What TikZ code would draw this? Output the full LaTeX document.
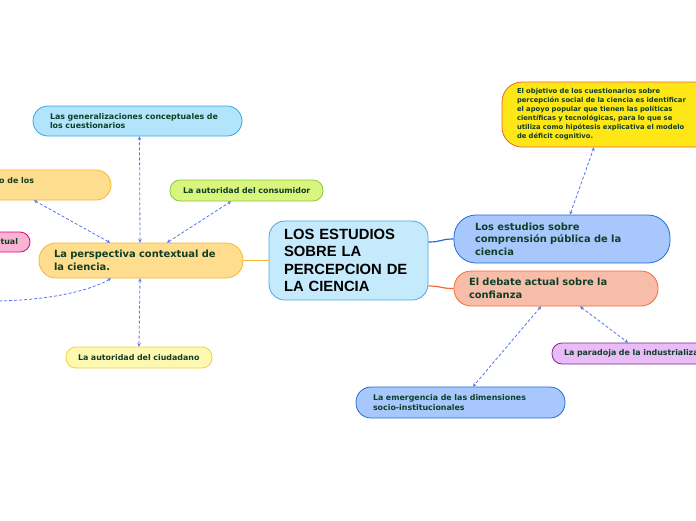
\documentclass[tikz,border=0pt]{standalone}
\usepackage{fontspec}
\setmainfont{DejaVu Sans}
\newfontfamily\arialfont{Liberation Sans}
\usetikzlibrary{arrows.meta}
\definecolor{txtc}{HTML}{0E3F26}
\definecolor{dashc}{HTML}{5474F5}
\definecolor{cenF}{HTML}{C5EAFC}\definecolor{cenD}{HTML}{4DA6E0}
\definecolor{perF}{HTML}{FEDD8E}\definecolor{perD}{HTML}{F5B82E}
\definecolor{genF}{HTML}{B2E5FB}\definecolor{genD}{HTML}{2EA8E6}
\definecolor{pinF}{HTML}{F9B4D4}\definecolor{pinD}{HTML}{E6007E}
\definecolor{conF}{HTML}{D9F57E}\definecolor{conD}{HTML}{8DC63F}
\definecolor{ciuF}{HTML}{FFF8B0}\definecolor{ciuD}{HTML}{F2D33A}
\definecolor{bluF}{HTML}{A8C8FD}\definecolor{bluD}{HTML}{1F6ED6}
\definecolor{objF}{HTML}{FFE617}\definecolor{objD}{HTML}{F2623A}
\definecolor{debF}{HTML}{F8BDA9}\definecolor{debD}{HTML}{F46B3B}
\definecolor{parF}{HTML}{E9BCF8}\definecolor{parD}{HTML}{7D2B8B}
\tikzset{
  mbox/.style={draw, line width=0.8pt, align=left, text=txtc, inner ysep=0pt, font=\bfseries},
  big/.style={font=\bfseries\fontsize{9.9}{12.6}\selectfont},
  small/.style={font=\bfseries\fontsize{7.9}{9.6}\selectfont},
  tiny/.style={font=\bfseries\fontsize{6.8}{9}\selectfont},
  dlink/.style={dashc, line width=0.8pt, dash pattern=on 3pt off 2pt, {Stealth[length=3.5pt,width=3.5pt]}-{Stealth[length=3.5pt,width=3.5pt]}},
}
\begin{document}
\begin{tikzpicture}[x=1pt,y=-1pt]
\path[use as bounding box] (0,0) rectangle (696,520);
\clip (0,0) rectangle (696,520);
\fill[white] (0,0) rectangle (696,520);

% central
\node[mbox, fill=cenF, draw=cenD, text=black, rounded corners=16pt, minimum width=159pt, minimum height=79pt, inner xsep=15pt, text width=129pt, font=\arialfont\bfseries\fontsize{14.8}{17.3}\selectfont] (cen) at (348.5,260.5) {LOS ESTUDIOS\\SOBRE LA\\PERCEPCION DE\\LA CIENCIA};

% left side
\node[mbox, big, fill=perF, draw=perD, rounded corners=17pt, minimum width=204pt, minimum height=35pt, inner xsep=15pt, text width=174pt] (per) at (141,260.5) {La perspectiva contextual de\\la ciencia.};
\node[mbox, small, fill=genF, draw=genD, rounded corners=15pt, minimum width=209pt, minimum height=30pt, inner xsep=17pt, text width=175pt] (gen) at (137.5,121) {Las generalizaciones conceptuales de\\los cuestionarios};
\node[mbox, small, fill=perF, draw=perD, rounded corners=15pt, minimum width=261pt, minimum height=30pt] (n4) at (-19.5,185) {};
\node[small, text=txtc, anchor=base west, inner sep=0pt] (n4t) at (-1,183) {o de los};
\node[mbox, small, fill=pinF, draw=pinD, rounded corners=10pt, minimum width=110pt, minimum height=20pt, inner xsep=12pt, text width=86pt, align=right] (pin) at (-25,242) {ctual};
\node[mbox, small, fill=conF, draw=conD, rounded corners=10pt, minimum width=153pt, minimum height=21pt, inner xsep=13pt, text width=127pt] (con) at (246.5,190.5) {\mbox{La autoridad del consumidor}};
\node[mbox, small, fill=ciuF, draw=ciuD, rounded corners=10pt, minimum width=146pt, minimum height=21pt, inner xsep=12pt, text width=122pt] (ciu) at (139,357.5) {\mbox{La autoridad del ciudadano}};
\coordinate (offl) at (-10,301);

% right side
\node[mbox, big, fill=bluF, draw=bluD, rounded corners=22pt, minimum width=216pt, minimum height=48pt, inner xsep=21pt, text width=174pt] (est) at (562,239) {Los estudios sobre\\comprensión pública de la\\ciencia};
\node[mbox, tiny, fill=objF, draw=objD, rounded corners=20pt, minimum width=212pt, minimum height=65pt, inner xsep=15pt, text width=182pt] (obj) at (608,114.5) {El objetivo de los cuestionarios sobre\\percepción social de la ciencia es identificar\\el apoyo popular que tienen las políticas\\científicas y tecnológicas, para lo que se\\utiliza como hipótesis explicativa el modelo\\de déficit cognitivo.};
\node[mbox, big, fill=debF, draw=debD, rounded corners=17pt, minimum width=204pt, minimum height=35pt, inner xsep=15pt, text width=174pt] (deb) at (556,288.5) {El debate actual sobre la\\confianza};
\node[mbox, small, fill=parF, draw=parD, rounded corners=10pt, minimum width=178pt, minimum height=21pt, inner xsep=12pt, text width=154pt] (par) at (641,353.5) {\mbox{La paradoja de la industrialización}};
\node[mbox, small, fill=bluF, draw=bluD, rounded corners=15pt, minimum width=209pt, minimum height=31pt, inner xsep=17pt, text width=175pt] (emg) at (460.5,402.5) {La emergencia de las dimensiones\\socio-institucionales};

% solid links
\draw[perD, line width=1.4pt] (cen.west) -- (per.east);
\draw[bluD, line width=1.2pt] ([yshift=18.5pt]cen.east) .. controls +(14,0) and +(-14,0) .. (est.west);
\draw[debD, line width=1.2pt] ([yshift=-25.5pt]cen.east) .. controls +(14,0) and +(-14,0) .. (deb.west);

% dashed links
\draw[dlink] ([xshift=-1pt]per.north) -- ([xshift=2pt]gen.south);
\draw[dlink] ([xshift=-31pt]per.north) -- ([xshift=53.5pt]n4.south);
\draw[dlink] ([xshift=26pt]per.north) -- ([xshift=-15.5pt]con.south);
\draw[dlink] ([xshift=-1pt]per.south) -- (ciu.north);
\draw[dlink] ([xshift=-30pt]per.south) .. controls +(-30,17) and +(40,0) .. (offl);
\draw[dlink] ([xshift=8pt]est.north) -- ([xshift=-14pt]obj.south);
\draw[dlink] ([xshift=-15pt]deb.south) -- ([xshift=12.5pt]emg.north);
\draw[dlink] ([xshift=24pt]deb.south) -- ([xshift=-13pt]par.north);
\end{tikzpicture}
\end{document}
